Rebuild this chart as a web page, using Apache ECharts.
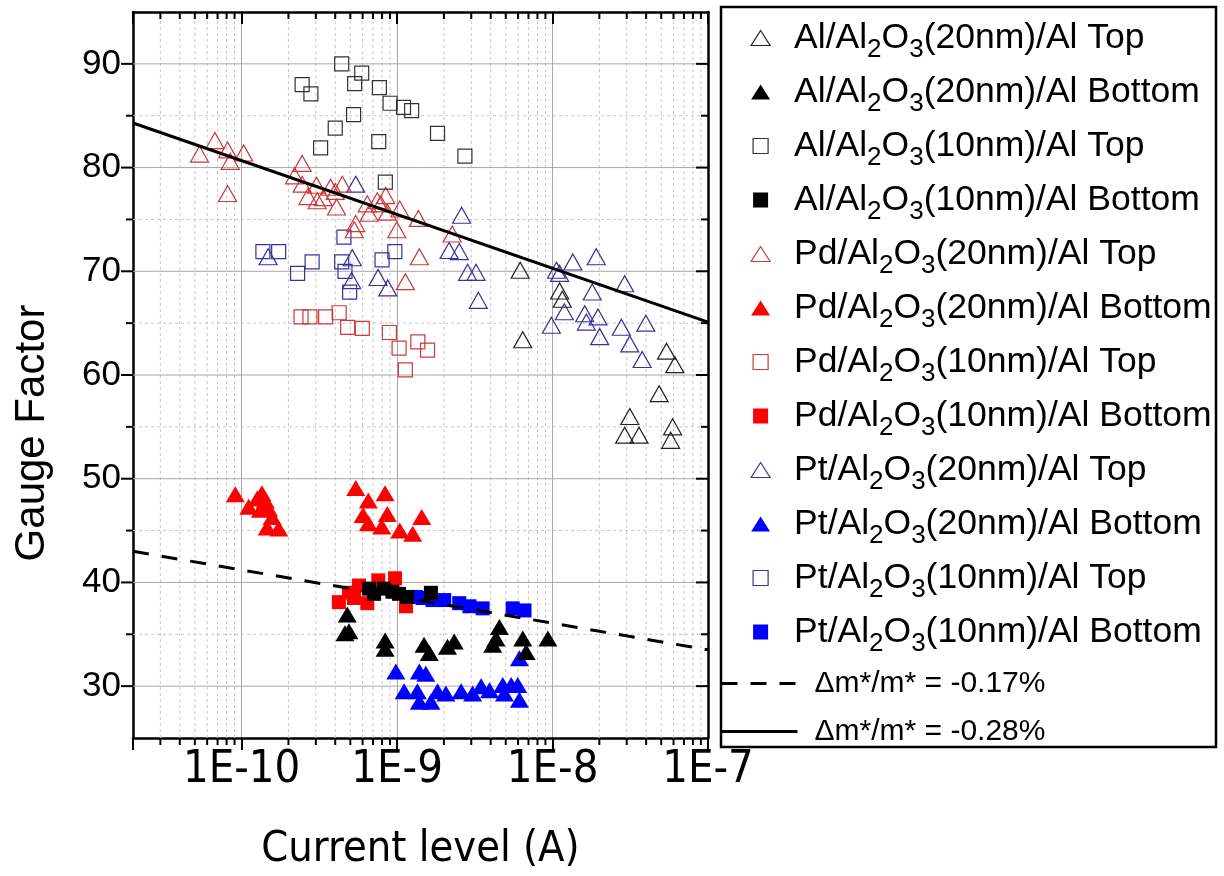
<!DOCTYPE html>
<html>
<head>
<meta charset="utf-8">
<script src="https://cdn.jsdelivr.net/npm/echarts@6/dist/echarts.min.js"></script>
<style>
  html, body { margin: 0; padding: 0; background: #fff; }
  #chart { width: 1224px; height: 876px; }
</style>
</head>
<body>
<div id="chart"></div>
<script>
const X_MIN = 2e-11, X_MAX = 1e-7;
const Y_MIN = 25, Y_MAX = 95;

// axis decorations
const decades = [1e-11, 1e-10, 1e-9, 1e-8];
const mults = [2, 3, 4, 5, 6, 7, 8, 9];
const xMinorTicks = decades.flatMap(d => mults.map(m => m * d)).filter(v => v > 2.01e-11 && v < X_MAX);
const yMajorTicks = [30, 40, 50, 60, 70, 80, 90];
const yMinorTicks = [35, 45, 55, 65, 75, 85];

// series data [current (A), gauge factor]
const alTop20 = [[6.19e-9, 70.1], [6.43e-9, 63.4], [1.11e-8, 68.1], [1.155e-8, 67.3], [5.41e-8, 62.3], [6.12e-8, 61.0],
  [4.85e-8, 58.2], [3.14e-8, 56.0], [2.91e-8, 54.2], [3.6e-8, 54.2], [5.92e-8, 55.0], [5.75e-8, 53.7]];
const alBot20 = [[4.78e-10, 36.9], [4.62e-10, 35.1], [4.9e-10, 35.3], [8.37e-10, 34.4], [8.37e-10, 33.6], [1.49e-9, 34.0],
  [1.61e-9, 33.2], [2.11e-9, 33.8], [2.33e-9, 34.3], [4.55e-9, 35.7], [4.33e-9, 34.6], [4.12e-9, 34.0],
  [6.43e-9, 34.6], [6.76e-9, 33.3], [9.33e-9, 34.6]];
const alTop10 = [[4.4e-10, 90.0], [5.92e-10, 89.1], [5.33e-10, 88.1], [2.45e-10, 88.0], [2.79e-10, 87.1], [7.69e-10, 87.7],
  [9.01e-10, 86.2], [1.1e-9, 85.8], [1.24e-9, 85.5], [5.25e-10, 85.1], [4.0e-10, 83.8], [3.22e-10, 81.9],
  [7.62e-10, 82.5], [8.4e-10, 78.6], [1.82e-9, 83.3], [2.73e-9, 81.1]];
const alBot10 = [[6.6e-10, 39.4], [7.1e-10, 38.9], [8.24e-10, 39.4], [9.33e-10, 39.1], [1.03e-9, 38.9], [1.16e-9, 38.6],
  [1.65e-9, 39.0]];
const pdTop20 = [[5.36e-11, 81.3], [6.73e-11, 82.6], [8.12e-11, 81.7], [8.45e-11, 80.6], [1.03e-10, 81.4], [8.12e-11, 77.5],
  [2.45e-10, 80.4], [2.19e-10, 79.2], [2.45e-10, 78.4], [2.67e-10, 77.2], [3.03e-10, 78.3], [3.06e-10, 76.8],
  [3.35e-10, 77.1], [3.73e-10, 78.1], [4.08e-10, 76.2], [4.44e-10, 78.4], [4.0e-10, 77.7], [6.43e-10, 76.5],
  [6.6e-10, 75.6], [7.46e-10, 76.8], [7.85e-10, 76.5], [8.45e-10, 77.3], [8.65e-10, 75.7], [1.04e-9, 76.0],
  [1.37e-9, 75.1], [9.95e-10, 74.0], [5.42e-10, 74.6], [5.3e-10, 74.0], [1.39e-9, 71.4], [1.13e-9, 69.0],
  [2.26e-9, 73.6]];
const pdBot20 = [[9.1e-11, 48.5], [1.11e-10, 47.3], [1.26e-10, 48.1], [1.35e-10, 48.6], [1.42e-10, 47.9], [1.32e-10, 47.0],
  [1.49e-10, 47.1], [1.57e-10, 46.3], [1.46e-10, 45.3], [1.73e-10, 45.2], [5.42e-10, 49.1], [6.53e-10, 47.9],
  [8.37e-10, 48.6], [6.04e-10, 46.5], [6.53e-10, 45.7], [8.65e-10, 46.6], [7.97e-10, 45.4], [1.04e-9, 45.0],
  [1.26e-9, 44.7], [1.44e-9, 46.3]];
const pdTop10 = [[2.41e-10, 65.6], [2.75e-10, 65.6], [3.47e-10, 65.6], [4.24e-10, 66.0], [4.81e-10, 64.6], [5.97e-10, 64.5],
  [8.92e-10, 64.1], [1.03e-9, 62.6], [1.36e-9, 63.2], [1.57e-9, 62.4], [1.13e-9, 60.5]];
const pdBot10 = [[4.22e-10, 38.1], [5.28e-10, 38.5], [4.9e-10, 39.0], [5.69e-10, 39.7], [6.43e-10, 38.0], [7.57e-10, 40.2],
  [9.7e-10, 40.4], [1.14e-9, 37.7]];
const ptTop20 = [[1.48e-10, 71.4], [5.15e-10, 71.3], [5.1e-10, 69.1], [7.54e-10, 69.4], [8.71e-10, 68.4], [5.42e-10, 78.4],
  [2.16e-9, 72.0], [2.51e-9, 71.9], [2.84e-9, 69.9], [3.22e-9, 69.9], [3.33e-9, 67.2], [2.6e-9, 75.4],
  [1.06e-8, 70.1], [1.11e-8, 69.8], [1.35e-8, 70.9], [1.91e-8, 71.4], [9.82e-9, 64.8], [1.19e-8, 66.1],
  [1.8e-8, 68.0], [1.61e-8, 65.9], [1.65e-8, 65.1], [1.96e-8, 65.6], [2.01e-8, 63.7], [2.91e-8, 68.8],
  [2.77e-8, 64.6], [3.98e-8, 65.0], [3.14e-8, 63.0], [3.77e-8, 61.5]];
const ptBot20 = [[9.82e-10, 31.4], [1.39e-9, 31.4], [1.53e-9, 31.2], [1.11e-9, 29.5], [1.35e-9, 29.5], [1.39e-9, 28.5],
  [1.65e-9, 28.5], [1.82e-9, 29.5], [2.06e-9, 29.3], [2.58e-9, 29.5], [3.06e-9, 29.3], [3.47e-9, 30.0],
  [3.93e-9, 29.6], [4.78e-9, 30.1], [5.42e-9, 30.1], [5.97e-9, 30.1], [4.9e-9, 29.3], [6.12e-9, 28.7],
  [6.12e-9, 32.7]];
const ptTop10 = [[1.37e-10, 71.9], [1.73e-10, 71.9], [2.29e-10, 69.8], [2.84e-10, 70.9], [4.55e-10, 73.3], [4.4e-10, 70.9],
  [4.62e-10, 70.0], [4.95e-10, 68.0], [8.0e-10, 71.1], [9.67e-10, 71.9]];
const ptBot10 = [[1.32e-9, 38.6], [1.46e-9, 38.5], [1.69e-9, 38.3], [2.01e-9, 38.3], [2.51e-9, 38.0], [2.92e-9, 37.7],
  [3.55e-9, 37.5], [5.54e-9, 37.5], [6.6e-9, 37.3]];

// fitted lines
const fitX = [2e-11, 1e-7];
const fitDashed = [43.0, 33.5];
const fitSolid = [84.3, 65.1];

const SANS = "'Liberation Sans', Arial, sans-serif";
const NARROW = "'Liberation Sans Narrow', 'Arial Narrow', 'DejaVu Sans Condensed', sans-serif";
const DASH = [16, 13];

const scatterDefs = [
  { name: 'Al/Al2O3(20nm)/Al Top', data: alTop20, symbol: 'triangle', color: '#222', hollow: true },
  { name: 'Al/Al2O3(20nm)/Al Bottom', data: alBot20, symbol: 'triangle', color: '#000', hollow: false },
  { name: 'Al/Al2O3(10nm)/Al Top', data: alTop10, symbol: 'rect', color: '#333', hollow: true },
  { name: 'Al/Al2O3(10nm)/Al Bottom', data: alBot10, symbol: 'rect', color: '#000', hollow: false },
  { name: 'Pd/Al2O3(20nm)/Al Top', data: pdTop20, symbol: 'triangle', color: '#cc3a3a', hollow: true },
  { name: 'Pd/Al2O3(20nm)/Al Bottom', data: pdBot20, symbol: 'triangle', color: '#ff0000', hollow: false },
  { name: 'Pd/Al2O3(10nm)/Al Top', data: pdTop10, symbol: 'rect', color: '#cc3a3a', hollow: true },
  { name: 'Pd/Al2O3(10nm)/Al Bottom', data: pdBot10, symbol: 'rect', color: '#ff0000', hollow: false },
  { name: 'Pt/Al2O3(20nm)/Al Top', data: ptTop20, symbol: 'triangle', color: '#34349c', hollow: true },
  { name: 'Pt/Al2O3(20nm)/Al Bottom', data: ptBot20, symbol: 'triangle', color: '#0000ff', hollow: false },
  { name: 'Pt/Al2O3(10nm)/Al Top', data: ptTop10, symbol: 'rect', color: '#34349c', hollow: true },
  { name: 'Pt/Al2O3(10nm)/Al Bottom', data: ptBot10, symbol: 'rect', color: '#0000ff', hollow: false },
];

const styleOf = d => d.hollow
  ? { color: 'rgba(255,255,255,0)', borderColor: d.color, borderWidth: 1.2, opacity: 1 }
  : { color: d.color, borderWidth: 0, opacity: 1 };

// Pt first, Al last so black markers sit on top
const drawOrder = [8, 9, 10, 11, 4, 5, 6, 7, 0, 1, 2, 3];
const scatterSeries = drawOrder.map(i => {
  const d = scatterDefs[i];
  return {
    name: d.name,
    type: 'scatter',
    data: d.data,
    symbol: d.symbol,
    symbolSize: d.symbol === 'triangle' ? (d.hollow ? [18, 16] : [19, 16]) : [14, 14],
    itemStyle: styleOf(d),
    z: 3,
  };
});

const gridDecor = [
  {
    type: 'custom', name: 'xMinor', silent: true, clip: false, z: 1,
    data: xMinorTicks.map(v => [v, Y_MIN]),
    renderItem: (params, api) => {
      const v = api.value(0);
      const b = api.coord([v, Y_MIN]);
      const t = api.coord([v, Y_MAX]);
      return {
        type: 'group', children: [
          { type: 'line', shape: { x1: b[0], y1: b[1], x2: t[0], y2: t[1] }, style: { stroke: '#c6c6c6', lineWidth: 1, lineDash: [3, 3] } },
          { type: 'line', shape: { x1: b[0], y1: b[1], x2: b[0], y2: b[1] + 7 }, style: { stroke: '#000', lineWidth: 2 } },
          { type: 'line', shape: { x1: t[0], y1: t[1], x2: t[0], y2: t[1] + 7 }, style: { stroke: '#000', lineWidth: 2 } },
        ]
      };
    }
  },
  {
    type: 'custom', name: 'yTicks', silent: true, clip: false, z: 1,
    data: yMajorTicks.map(v => [X_MIN, v, 1]).concat(yMinorTicks.map(v => [X_MIN, v, 0])),
    renderItem: (params, api) => {
      const v = api.value(1);
      const major = api.value(2) === 1;
      const l = api.coord([X_MIN, v]);
      const r = api.coord([X_MAX, v]);
      const len = major ? 12 : 7;
      return {
        type: 'group', children: [
          { type: 'line', shape: { x1: l[0], y1: l[1], x2: r[0], y2: r[1] },
            style: major ? { stroke: '#a8a8a8', lineWidth: 1 } : { stroke: '#c6c6c6', lineWidth: 1, lineDash: [3, 3] } },
          { type: 'line', shape: { x1: l[0] - len, y1: l[1], x2: l[0], y2: l[1] }, style: { stroke: '#000', lineWidth: 2 } },
          { type: 'line', shape: { x1: r[0] - len, y1: r[1], x2: r[0], y2: r[1] }, style: { stroke: '#000', lineWidth: 2 } },
        ]
      };
    }
  }
];

const fitSeries = [
  {
    name: 'Δm*/m* = -0.17%', type: 'line', symbol: 'none', z: 4,
    data: fitX.map((x, i) => [x, fitDashed[i]]),
    itemStyle: { color: '#000' },
    lineStyle: { color: '#000', width: 3, type: DASH },
  },
  {
    name: 'Δm*/m* = -0.28%', type: 'line', symbol: 'none', z: 4,
    data: fitX.map((x, i) => [x, fitSolid[i]]),
    itemStyle: { color: '#000' },
    lineStyle: { color: '#000', width: 3 },
  },
];

const decadeLabel = v => {
  const e = Math.log10(v);
  if (Math.abs(e - Math.round(e)) > 1e-6) return '';
  return '1E' + Math.round(e);
};

const chart = echarts.init(document.getElementById('chart'));
chart.setOption({
  animation: false,
  backgroundColor: '#fff',
  grid: { left: 133, top: 12, width: 575, height: 730 },
  xAxis: [
    {
      type: 'log', logBase: 10, min: X_MIN, max: X_MAX, position: 'bottom',
      axisLine: { lineStyle: { color: '#000', width: 2.5 } },
      axisTick: { length: 12, lineStyle: { color: '#000', width: 2 } },
      axisLabel: { formatter: decadeLabel, fontSize: 45, fontFamily: NARROW, color: '#000', margin: 10 },
      splitLine: { show: true, lineStyle: { color: '#a8a8a8', width: 1 } },
      name: 'Current level (A)', nameLocation: 'middle', nameGap: 90,
      nameTextStyle: { fontSize: 43, fontFamily: NARROW, color: '#000' },
    },
    {
      type: 'log', logBase: 10, min: X_MIN, max: X_MAX, position: 'top',
      axisLine: { lineStyle: { color: '#000', width: 2.5 } },
      axisTick: { inside: true, length: 12, lineStyle: { color: '#000', width: 2 } },
      axisLabel: { show: false },
      splitLine: { show: false },
    }
  ],
  yAxis: [
    {
      type: 'value', min: Y_MIN, max: Y_MAX, interval: 5, position: 'left',
      axisLine: { show: true, lineStyle: { color: '#000', width: 2.5 } },
      axisTick: { show: false },
      axisLabel: { formatter: v => (v % 10 === 0 ? String(v) : ''), fontSize: 35, fontFamily: SANS, color: '#000', margin: 12 },
      splitLine: { show: false },
      name: 'Gauge Factor', nameLocation: 'middle', nameGap: 80,
      nameTextStyle: { fontSize: 42, fontFamily: SANS, color: '#000', padding: [0, 116, 0, 0] },
    },
    {
      type: 'value', min: Y_MIN, max: Y_MAX, interval: 5, position: 'right',
      axisLine: { show: true, lineStyle: { color: '#000', width: 2.5 } },
      axisTick: { show: false },
      axisLabel: { show: false },
      splitLine: { show: false },
    }
  ],
  legend: [
    {
      orient: 'vertical', left: 750.5, top: 13, padding: 0, itemGap: 4,
      itemWidth: 19, itemHeight: 15,
      data: scatterDefs.map(d => ({
        name: d.name,
        icon: d.symbol === 'rect' ? 'path://M0,0H10V10H0Z' : 'triangle',
        itemStyle: styleOf(d),
      })),
      formatter: name => {
        const parts = name.split('Al2O3');
        return '{g| }{t|' + parts[0] + 'Al}{s|2}{t|O}{s|3}{t|' + parts[1] + '}';
      },
      textStyle: {
        color: '#000',
        rich: {
          g: { width: 19, lineHeight: 50, fontSize: 35, fontFamily: SANS },
          t: { fontSize: 35.5, lineHeight: 50, fontFamily: SANS, color: '#000' },
          s: { fontSize: 26, lineHeight: 26, padding: [24, 0, 0, 0], fontFamily: SANS, color: '#000' },
        }
      },
      selectedMode: false,
    },
    {
      orient: 'vertical', left: 720, top: 668.5, padding: 0, itemGap: 18,
      itemWidth: 76, itemHeight: 14,
      itemStyle: { opacity: 0 },
      data: [
        { name: fitSeries[0].name, itemStyle: { opacity: 0 }, lineStyle: { color: '#000', width: 3, type: DASH } },
        { name: fitSeries[1].name, itemStyle: { opacity: 0 }, lineStyle: { color: '#000', width: 3, type: 'solid' } },
      ],
      formatter: name => '{g| }{t|' + name + '}',
      textStyle: {
        color: '#000',
        rich: {
          g: { width: 12, lineHeight: 36, fontSize: 30, fontFamily: SANS },
          t: { fontSize: 30, lineHeight: 36, fontFamily: SANS, color: '#000' },
        }
      },
      selectedMode: false,
    }
  ],
  graphic: [
    { type: 'rect', shape: { x: 721, y: 7, width: 495, height: 740 }, style: { fill: 'none', stroke: '#000', lineWidth: 2.5 }, z: 10 }
  ],
  series: gridDecor.concat(scatterSeries, fitSeries),
});
</script>
</body>
</html>
